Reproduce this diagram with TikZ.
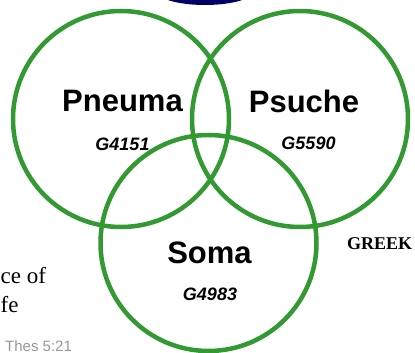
\documentclass[tikz,border=0pt]{standalone}
\usepackage{fontspec}
\setmainfont{Liberation Serif}
\setsansfont{Liberation Sans}
\usetikzlibrary{positioning}
\definecolor{ringgreen}{RGB}{51,153,51}
\definecolor{capnavy}{RGB}{0,0,102}
\definecolor{refgray}{RGB}{150,150,150}

\begin{document}
\begin{tikzpicture}[x=1pt,y=-1pt,
    ring/.style={draw=ringgreen, line width=4.5pt},
    wordlabel/.style={inner sep=0pt, font=\fontsize{31}{37}\selectfont\sffamily\bfseries},
    strongnum/.style={inner sep=0pt, font=\fontsize{18}{22}\selectfont\sffamily\bfseries\itshape}]
    \useasboundingbox (0,0) rectangle (415,353);
    \clip (0,0) rectangle (415,353);

    % Navy cap peeking in at the top edge
    \fill[capnavy] (205,-10) ellipse [x radius=50pt, y radius=15pt];

    % The three rings
    \foreach \cx/\cy in {121/119, 300/119, 208.5/243}
      \draw[ring] (\cx,\cy) circle (108pt);

    % Greek words and Strong's numbers
    \node[wordlabel] (pneuma) at (122.5,101) {Pneuma};
    \node[strongnum] (pneumanum) at (122.5,144.5) {G4151};
    \node[wordlabel] (psuche) at (304,101) {Psuche};
    \node[strongnum] (psuchenum) at (308.5,143.5) {G5590};
    \node[wordlabel] (soma) at (209.5,252.5) {Soma};
    \node[strongnum] (somanum) at (210,294) {G4983};

    % Side texts
    \node[inner sep=0pt, anchor=west, font=\fontsize{18}{22}\selectfont\bfseries] (greek) at (347,243.5) {GREEK};
    \node[inner sep=0pt, anchor=base west, font=\fontsize{23}{28}\selectfont] (essence) at (0.5,283) {ce of};
    \node[inner sep=0pt, anchor=base west, font=\fontsize{23}{28}\selectfont] (life) at (0.5,312) {fe};
    \node[inner sep=0pt, anchor=base west, text=refgray, font=\fontsize{15}{18}\selectfont\sffamily] (verse) at (5,351) {Thes 5:21};
\end{tikzpicture}
\end{document}
